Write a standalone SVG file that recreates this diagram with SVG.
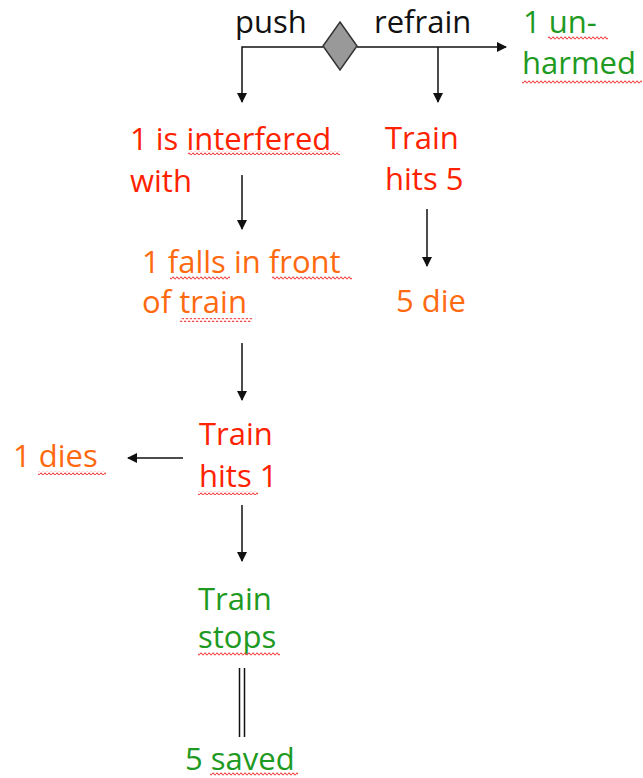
<svg xmlns="http://www.w3.org/2000/svg" width="643" height="778" viewBox="0 0 643 778">
<style>
text{font-family:"Open Sans","Liberation Sans",sans-serif;font-size:31px}
.blk{fill:#111}
.red{fill:#ff2200}
.org{fill:#ff6a10}
.grn{fill:#1e9a22}
.ln{stroke:#111;stroke-width:1.5;fill:none}
</style>
<defs>
<marker id="ah" markerWidth="10" markerHeight="10" refX="9" refY="5" orient="auto" markerUnits="userSpaceOnUse">
<path d="M0,0 L10,5 L0,10 Z" fill="#111"/>
</marker>
<pattern id="wave" width="4" height="4" patternUnits="userSpaceOnUse">
<path d="M0,2 Q1,0.3 2,2 T4,2" fill="none" stroke="#f04848" stroke-width="1.2"/>
</pattern>
</defs>
<rect width="643" height="778" fill="#fff"/>
<g id="connectors">
<path class="ln" d="M323,47 H242 V102" marker-end="url(#ah)"/>
<path class="ln" d="M357,47 H506" marker-end="url(#ah)"/>
<path class="ln" d="M438,47 V102" marker-end="url(#ah)"/>
<path class="ln" d="M242,175 V229" marker-end="url(#ah)"/>
<path class="ln" d="M427,209 V266" marker-end="url(#ah)"/>
<path class="ln" d="M242,343 V400" marker-end="url(#ah)"/>
<path class="ln" d="M183,458 H128" marker-end="url(#ah)"/>
<path class="ln" d="M242,505 V561" marker-end="url(#ah)"/>
<path class="ln" d="M239.5,668 V737 M244.5,668 V737"/>
</g>
<g id="decision">
<polygon points="340,22 357,46 340,70 323,46" fill="#999" stroke="#333" stroke-width="1.5"/>
<text class="blk" x="235" y="33">push</text>
<text class="blk" x="374" y="33">refrain</text>
</g>
<g id="unharmed">
<text class="grn" x="523" y="33">1 un-</text>
<text class="grn" x="522" y="74">harmed</text>
<rect x="548" y="36" width="60" height="4" fill="url(#wave)"/>
<rect x="522" y="80" width="120" height="4" fill="url(#wave)"/>
</g>
<g id="interfered">
<text class="red" x="130" y="150">1 is interfered</text>
<text class="red" x="130" y="192">with</text>
<rect x="188" y="151" width="152" height="4" fill="url(#wave)"/>
</g>
<g id="hits5">
<text class="red" x="385" y="149">Train</text>
<text class="red" x="385" y="190">hits 5</text>
</g>
<g id="falls">
<text class="org" x="142" y="273">1 falls in front</text>
<text class="org" x="142" y="313">of train</text>
<rect x="170" y="276" width="60" height="4" fill="url(#wave)"/>
<rect x="272" y="276" width="80" height="4" fill="url(#wave)"/>
<rect x="180" y="318" width="72" height="4" fill="url(#wave)"/>
</g>
<g id="die5">
<text class="org" x="396" y="312">5 die</text>
</g>
<g id="hits1">
<text class="red" x="199" y="445">Train</text>
<text class="red" x="199" y="487">hits 1</text>
<rect x="198" y="491" width="60" height="4" fill="url(#wave)"/>
</g>
<g id="dies1">
<text class="org" x="13" y="467">1 dies</text>
<rect x="38" y="471" width="68" height="4" fill="url(#wave)"/>
</g>
<g id="stops">
<text class="grn" x="198" y="610">Train</text>
<text class="grn" x="198" y="648">stops</text>
<rect x="198" y="652" width="82" height="4" fill="url(#wave)"/>
</g>
<g id="saved">
<text class="grn" x="185" y="770">5 saved</text>
<rect x="210" y="772" width="88" height="4" fill="url(#wave)"/>
</g>
</svg>
